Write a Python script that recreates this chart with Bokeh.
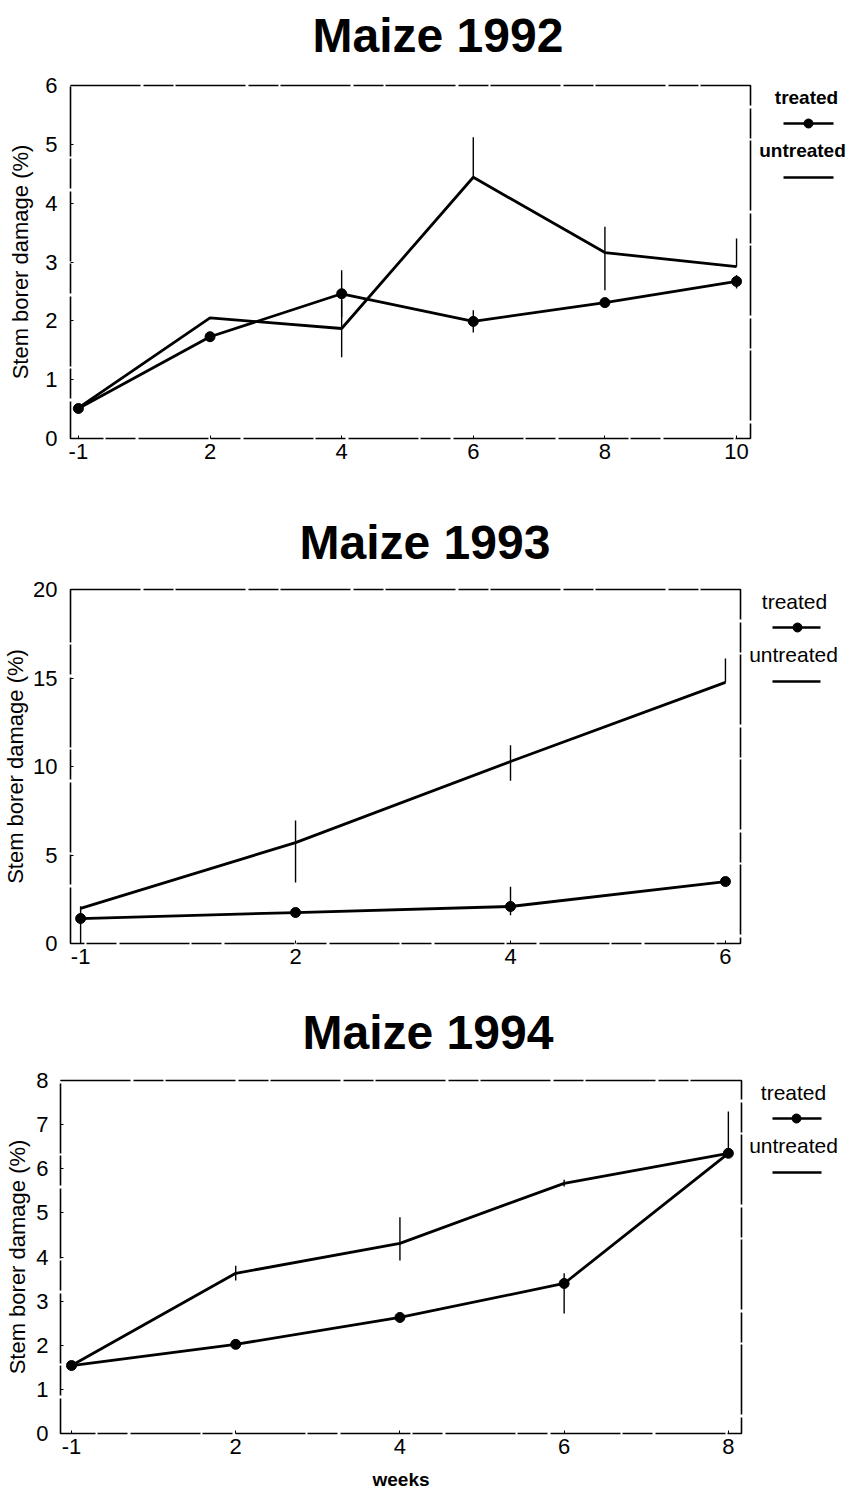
import math
from bokeh.plotting import figure
from bokeh.models import Range1d, FixedTicker, Title
from bokeh.layouts import column, row
from bokeh.embed import file_html
from bokeh.resources import INLINE
from bokeh.core.properties import value

nan = float("nan")
FONT = "Liberation Sans"

# ---------------- data ----------------
weeks_1992 = ["-1", "2", "4", "6", "8", "10"]
treated_1992 = [0.51, 1.73, 2.46, 1.99, 2.31, 2.67]
untreated_1992 = [0.52, 2.05, 1.87, 4.44, 3.16, 2.92]
treated_1992_lo = [nan, nan, 2.06, 1.80, nan, 2.55]
treated_1992_hi = [nan, nan, 2.86, 2.18, nan, 2.78]
untreated_1992_lo = [nan, nan, 1.38, 4.44, 2.52, 2.92]
untreated_1992_hi = [nan, nan, 2.35, 5.12, 3.60, 3.40]
yticks_1992 = [0, 1, 2, 3, 4, 5, 6]

weeks_1993 = ["-1", "2", "4", "6"]
treated_1993 = [1.41, 1.75, 2.09, 3.50]
untreated_1993 = [1.98, 5.70, 10.28, 14.75]
treated_1993_lo = [0.0, nan, 1.6, nan]
treated_1993_hi = [2.1, nan, 3.2, nan]
untreated_1993_lo = [nan, 3.45, 9.2, 14.75]
untreated_1993_hi = [nan, 6.95, 11.2, 16.1]
yticks_1993 = [0, 5, 10, 15, 20]

weeks_1994 = ["-1", "2", "4", "6", "8"]
treated_1994 = [1.54, 2.02, 2.63, 3.40, 6.35]
untreated_1994 = [1.54, 3.63, 4.31, 5.67, 6.35]
treated_1994_lo = [nan, nan, nan, 2.72, nan]
treated_1994_hi = [nan, nan, nan, 3.63, nan]
untreated_1994_lo = [nan, 3.47, 3.92, 5.60, 6.35]
untreated_1994_hi = [nan, 3.80, 4.90, 5.75, 7.30]
yticks_1994 = [0, 1, 2, 3, 4, 5, 6, 7, 8]

y_label = "Stem borer damage (%)"
legend_labels = ["treated", "untreated"]


def bars(lo, hi):
    xs, ys0, ys1 = [], [], []
    for i, (a, b) in enumerate(zip(lo, hi)):
        if not (math.isnan(a) or math.isnan(b)):
            xs.append(i)
            ys0.append(a)
            ys1.append(b)
    return xs, ys0, ys1


def panel(title, weeks, tr, un, tr_lo, tr_hi, un_lo, un_hi, ymax, yticks,
          fw, fh, bl, br, bt, bb, xpad_l, xpad_r, t_off, gap,
          tick_stand, lab_stand, xlabel=None):
    n = len(weeks)
    p = figure(frame_width=fw, frame_height=fh,
               min_border_left=bl, min_border_right=br,
               min_border_top=bt, min_border_bottom=bb,
               x_range=Range1d(-xpad_l, n - 1 + xpad_r),
               y_range=Range1d(0, ymax),
               toolbar_location=None, output_backend="svg",
               background_fill_color="white", border_fill_color="white")
    # spacer between frame and title, then the title itself
    p.add_layout(Title(text=" ", text_font_size="1px", standoff=gap), "above")
    p.add_layout(Title(text=title, align="left", offset=t_off, standoff=0,
                       text_font=FONT, text_font_size="48px",
                       text_font_style="bold", text_color="black"), "above")

    p.grid.grid_line_color = None
    p.outline_line_color = "black"
    p.outline_line_width = 1.6
    p.outline_line_dash = "70 3 30 2"

    p.xaxis.ticker = FixedTicker(ticks=list(range(n)))
    p.xaxis.major_label_overrides = {i: w for i, w in enumerate(weeks)}
    p.yaxis.ticker = FixedTicker(ticks=yticks)
    for ax in (p.xaxis, p.yaxis):
        ax.axis_line_color = None
        ax.major_tick_in = 3
        ax.major_tick_out = 0
        ax.major_tick_line_color = "black"
        ax.minor_tick_line_color = None
        ax.major_label_text_font = FONT
        ax.major_label_text_font_size = "22px"
        ax.major_label_text_color = "black"
    p.xaxis.major_label_standoff = 5
    p.yaxis.major_label_standoff = tick_stand
    p.yaxis.axis_label = y_label
    p.yaxis.axis_label_text_font = FONT
    p.yaxis.axis_label_text_font_size = "22px"
    p.yaxis.axis_label_text_font_style = "normal"
    p.yaxis.axis_label_text_color = "black"
    p.yaxis.axis_label_standoff = lab_stand
    if xlabel:
        p.xaxis.axis_label = xlabel
        p.xaxis.axis_label_text_font = FONT
        p.xaxis.axis_label_text_font_size = "19px"
        p.xaxis.axis_label_text_font_style = "bold"
        p.xaxis.axis_label_text_color = "black"
        p.xaxis.axis_label_standoff = 12

    idx = list(range(n))
    for lo, hi in ((tr_lo, tr_hi), (un_lo, un_hi)):
        xs, y0, y1 = bars(lo, hi)
        p.segment(x0=xs, y0=y0, x1=xs, y1=y1, line_color="black", line_width=1.4)
    p.line(idx, un, line_color="black", line_width=2.8)
    p.line(idx, tr, line_color="black", line_width=2.8)
    p.scatter(idx, tr, size=10, marker="circle", fill_color="black", line_color="black")
    return p


def legend_fig(fh, bt, bb, width, tx, ux, lx0, lx1, mx, size, style):
    lf = figure(frame_width=width, frame_height=fh,
                min_border_left=0, min_border_right=0,
                min_border_top=bt, min_border_bottom=bb,
                x_range=Range1d(0, width), y_range=Range1d(fh, 0),
                toolbar_location=None, output_backend="svg",
                x_axis_location=None, y_axis_location=None,
                background_fill_color="white", border_fill_color="white")
    lf.outline_line_color = None
    lf.grid.grid_line_color = None
    lf.text(x=[tx, ux], y=[12, 65], text=legend_labels,
            text_align="center", text_baseline="middle",
            text_font=value(FONT), text_font_size=size,
            text_font_style=style, text_color="black")
    lf.line([lx0, lx1], [38, 38], line_color="black", line_width=2.6)
    lf.scatter([mx], [38], size=9, marker="circle", fill_color="black", line_color="black")
    lf.line([lx0, lx1], [92, 92], line_color="black", line_width=2.6)
    return lf


# 1992
p1 = panel("Maize 1992", weeks_1992, treated_1992, untreated_1992,
           treated_1992_lo, treated_1992_hi, untreated_1992_lo, untreated_1992_hi,
           6, yticks_1992, fw=680, fh=353, bl=70, br=5, bt=85, bb=52,
           xpad_l=0.06, xpad_r=0.106, t_off=242, gap=21, tick_stand=13, lab_stand=9)
l1 = legend_fig(353, 85, 52, 94, tx=51, ux=47, lx0=28, lx1=78, mx=53, size="19px", style="bold")

# 1993
p2 = panel("Maize 1993", weeks_1993, treated_1993, untreated_1993,
           treated_1993_lo, treated_1993_hi, untreated_1993_lo, untreated_1993_hi,
           20, yticks_1993, fw=670, fh=354, bl=68, br=7, bt=99, bb=37,
           xpad_l=0.047, xpad_r=0.07, t_off=229, gap=18, tick_stand=13, lab_stand=2)
l2 = legend_fig(354, 99, 37, 104, tx=47, ux=46, lx0=25, lx1=73, mx=50, size="21px", style="normal")

# 1994
p3 = panel("Maize 1994", weeks_1994, treated_1994, untreated_1994,
           treated_1994_lo, treated_1994_hi, untreated_1994_lo, untreated_1994_hi,
           8, yticks_1994, fw=681, fh=353, bl=60, br=4, bt=100, bb=66,
           xpad_l=0.067, xpad_r=0.08, t_off=242, gap=19, tick_stand=12, lab_stand=3,
           xlabel="weeks")
l3 = legend_fig(353, 100, 66, 104, tx=48, ux=48, lx0=27, lx1=76, mx=51, size="21px", style="normal")

layout = column(row(p1, l1, spacing=0), row(p2, l2, spacing=0), row(p3, l3, spacing=0), spacing=0)

open("out.html", "w").write(file_html(layout, INLINE))
